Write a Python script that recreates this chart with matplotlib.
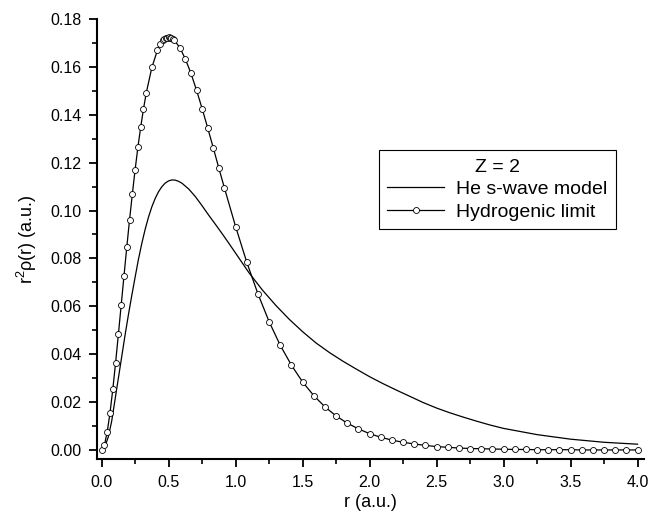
import matplotlib
matplotlib.use("Agg")
import matplotlib.pyplot as plt
from matplotlib.ticker import MultipleLocator, FormatStrFormatter

plt.rcParams["font.family"] = ["Liberation Sans", "DejaVu Sans"]
plt.rcParams["mathtext.fontset"] = "custom"
plt.rcParams["mathtext.rm"] = "Liberation Sans"

# He s-wave model
he_r = [0.0, 0.025, 0.05, 0.075, 0.1, 0.125, 0.15, 0.175, 0.2, 0.225, 0.25, 0.275,
        0.3, 0.325, 0.35, 0.375, 0.4, 0.425, 0.45, 0.475, 0.5, 0.525, 0.55, 0.575,
        0.6, 0.65, 0.7, 0.75, 0.8, 0.85, 0.9, 0.95, 1.0, 1.1, 1.2, 1.3, 1.4, 1.5,
        1.6, 1.7, 1.8, 1.9, 2.0, 2.1, 2.2, 2.3, 2.4, 2.5, 2.6, 2.7, 2.8, 2.9, 3.0,
        3.25, 3.5, 3.75, 4.0]
he_val = [0.0, 0.0015, 0.0055, 0.012, 0.021, 0.030, 0.039, 0.048, 0.0565, 0.0645, 0.0722, 0.0797,
          0.0863, 0.0922, 0.0973, 0.1016, 0.1051, 0.1079, 0.1100, 0.1115, 0.1124, 0.1128, 0.1127, 0.1122,
          0.1114, 0.1090, 0.1058, 0.1020, 0.0980, 0.0942, 0.0903, 0.0863, 0.0822, 0.0740, 0.0668, 0.0604, 0.0546, 0.0494,
          0.0447, 0.0407, 0.0371, 0.0338, 0.0306, 0.0277, 0.0250, 0.0224, 0.0198, 0.0175, 0.0155, 0.0137, 0.0120, 0.0104, 0.0090,
          0.0064, 0.0045, 0.0032, 0.0024]

# Hydrogenic limit (markers)
hyd_r = [0.0, 0.0208, 0.0417, 0.0625, 0.0833, 0.1042, 0.125, 0.1458, 0.1667, 0.1875,
         0.2083, 0.2292, 0.25, 0.2708, 0.2917, 0.3125, 0.3333, 0.375, 0.4167, 0.4375,
         0.4583, 0.4688, 0.4792, 0.4896, 0.5, 0.5104, 0.5208, 0.5313, 0.5417, 0.5833,
         0.625, 0.6667, 0.7083, 0.75, 0.7917, 0.8333, 0.875, 0.9167, 1.0, 1.0833,
         1.1667, 1.25, 1.3333, 1.4167, 1.5, 1.5833, 1.6667, 1.75, 1.8333, 1.9167,
         2.0, 2.0833, 2.1667, 2.25, 2.3333, 2.4167, 2.5, 2.5833, 2.6667, 2.75,
         2.8333, 2.9167, 3.0, 3.0833, 3.1667, 3.25, 3.3333, 3.4167, 3.5, 3.5833,
         3.6667, 3.75, 3.8333, 3.9167, 4.0]
hyd_val = [0.0, 0.0020, 0.0075, 0.0155, 0.0253, 0.0364, 0.0483, 0.0604, 0.0726, 0.0846,
           0.0961, 0.1069, 0.1171, 0.1265, 0.1349, 0.1425, 0.1492, 0.1598, 0.1670, 0.1694,
           0.1711, 0.1716, 0.1720, 0.1722, 0.1723, 0.1722, 0.1720, 0.1717, 0.1712, 0.1681,
           0.1633, 0.1573, 0.1503, 0.1426, 0.1345, 0.1262, 0.1177, 0.1094, 0.0933, 0.0784,
           0.0652, 0.0536, 0.0437, 0.0354, 0.0284, 0.0227, 0.0180, 0.0142, 0.0112, 0.0088,
           0.0068, 0.0053, 0.0041, 0.0032, 0.0025, 0.0019, 0.0014, 0.0011, 0.0008, 0.0006,
           0.0005, 0.0004, 0.0003, 0.0002, 0.0002, 0.0001, 0.0001, 0.0001, 0.0001, 0.0,
           0.0, 0.0, 0.0, 0.0, 0.0]

fig = plt.figure(figsize=(6.51, 5.15), dpi=100)
ax = fig.add_axes([0.1485, 0.1082, 0.8405, 0.8548])

ax.plot(he_r, he_val, color="black", lw=0.9, label="He s-wave model")
ax.plot(hyd_r, hyd_val, color="black", lw=0.9, marker="o", markersize=4.3,
        markerfacecolor="white", markeredgecolor="black", markeredgewidth=0.6,
        label="Hydrogenic limit")

ax.set_xlim(-0.037, 4.047)
ax.set_ylim(-0.0039, 0.18)
ax.xaxis.set_major_locator(MultipleLocator(0.5))
ax.xaxis.set_minor_locator(MultipleLocator(0.25))
ax.yaxis.set_major_locator(MultipleLocator(0.02))
ax.yaxis.set_minor_locator(MultipleLocator(0.01))
ax.xaxis.set_major_formatter(FormatStrFormatter("%.1f"))
ax.yaxis.set_major_formatter(FormatStrFormatter("%.2f"))

for side in ["top", "right"]:
    ax.spines[side].set_visible(False)
for side in ["left", "bottom"]:
    ax.spines[side].set_linewidth(1.5)
ax.tick_params(which="major", direction="out", length=6, width=1.3, labelsize=11.5, pad=5)
ax.tick_params(which="minor", direction="out", length=3.5, width=1.2)

ax.set_xlabel("r (a.u.)", fontsize=13, labelpad=3)
ax.set_ylabel("r$^2$ρ(r) (a.u.)", fontsize=13, labelpad=8)

leg = ax.legend(title="Z = 2", loc="upper right", bbox_to_anchor=(0.950, 0.7025),
                borderaxespad=0, fancybox=False, edgecolor="black", framealpha=1,
                fontsize=14, title_fontsize=14, handlelength=2.9,
                borderpad=0.45, labelspacing=0.25, handletextpad=0.65)
leg.get_frame().set_linewidth(0.8)

fig.savefig("out.png", dpi=100)
